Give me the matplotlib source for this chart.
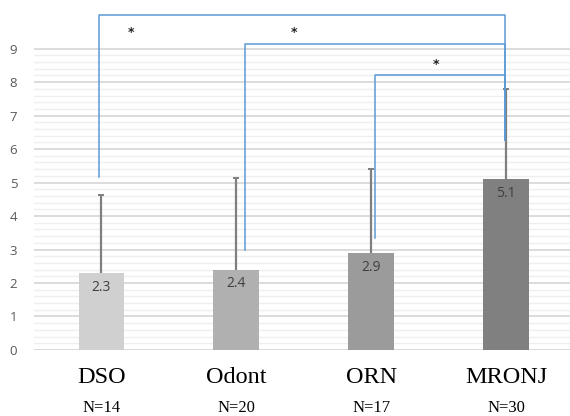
import matplotlib
matplotlib.use('Agg')
import matplotlib.pyplot as plt
from matplotlib.ticker import FixedLocator
import numpy as np

# Chart data
groups = ['DSO', 'Odont', 'ORN', 'MRONJ']
n_labels = ['N=14', 'N=20', 'N=17', 'N=30']
means = [2.3, 2.4, 2.9, 5.1]
err_up = [2.33, 2.74, 2.5, 2.69]
bar_colors = ['#d0d0d0', '#b0b0b0', '#9b9b9b', '#808080']

# Significance brackets: (left x, right x, left foot, right foot, top level)
brackets = [(-0.015, 2.99, 5.18, 6.27, 10.0),
            (1.063, 2.99, 2.99, 6.27, 9.15),
            (2.03, 2.99, 3.34, 6.27, 8.2)]
star_pos = [(0.22, 9.47), (1.43, 9.47), (2.48, 8.54)]

fig = plt.figure(figsize=(5.7, 4.16), dpi=100)
ax = fig.add_axes([0.0596, 0.1587, 0.94, 0.829])

x = np.arange(len(groups))
ax.bar(x, means, width=0.34, color=bar_colors, zorder=2)
# upper error only, line starts at bar top
tops = np.array(means) + np.array(err_up)
ax.vlines(x, means, tops, color='#7f7f7f', lw=1.6, zorder=3)
ax.scatter(x, tops, marker='_', s=18, color='#7f7f7f', linewidths=1.4, zorder=3)

# value labels inside the bars
for xi, m in zip(x, means):
    ax.text(xi, m - 0.2, f'{m}', ha='center', va='top', fontsize=10,
            color='#404040', family='Open Sans', zorder=4)

# brackets
blue = '#5b9bd5'
for x1, x2, f1, f2, top in brackets:
    ax.plot([x1, x1, x2, x2], [f1, top, top, f2], color=blue, lw=1.1,
            zorder=5, clip_on=False)
for sx, sy in star_pos:
    ax.text(sx, sy, '*', ha='center', va='center', fontsize=9, color='#222222',
            fontweight='bold', zorder=6)

ax.set_xlim(-0.5, 3.47)
ax.set_ylim(0, 10.3)
ax.yaxis.set_major_locator(FixedLocator(range(10)))
ax.yaxis.set_minor_locator(FixedLocator(np.arange(0.2, 9.0, 0.2)))
ax.grid(axis='y', which='major', color='#d9d9d9', lw=1.3, zorder=0)
ax.grid(axis='y', which='minor', color='#efefef', lw=1.0, zorder=0)
ax.set_axisbelow(True)
for s in ax.spines.values():
    s.set_visible(False)
ax.axhline(0, color='#d9d9d9', lw=1.3, zorder=1)
ax.tick_params(axis='both', which='both', length=0)
ax.set_xticks([])
ax.tick_params(axis='y', labelsize=9.5, labelcolor='#595959', pad=12)
for lab in ax.get_yticklabels():
    lab.set_family('Open Sans')

trans = ax.get_xaxis_transform()
for xi, g, n in zip(x, groups, n_labels):
    ax.text(xi, -0.081, g, transform=trans, ha='center', va='center',
            fontsize=17.5, family='Liberation Serif', color='black')
    ax.text(xi, -0.168, n, transform=trans, ha='center', va='center',
            fontsize=12, family='Liberation Serif', color='black')

fig.savefig('out.png', dpi=100)
